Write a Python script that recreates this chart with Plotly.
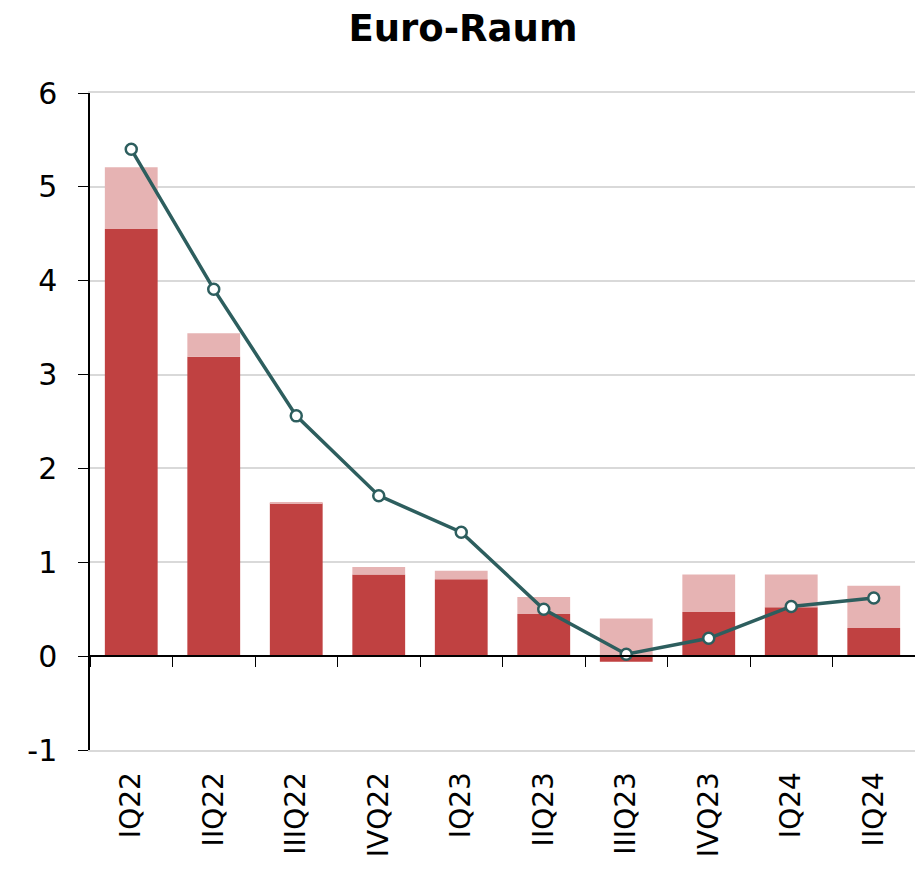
import plotly.graph_objects as go

categories = ["IQ22", "IIQ22", "IIIQ22", "IVQ22", "IQ23", "IIQ23", "IIIQ23", "IVQ23", "IQ24", "IIQ24"]
base_values = [4.55, 3.19, 1.63, 0.87, 0.82, 0.45, -0.06, 0.47, 0.52, 0.30]
extra_values = [0.66, 0.25, 0.01, 0.08, 0.09, 0.18, 0.40, 0.40, 0.35, 0.45]
line_values = [5.40, 3.91, 2.56, 1.71, 1.32, 0.50, 0.02, 0.19, 0.53, 0.62]
y_ticks = [-1, 0, 1, 2, 3, 4, 5, 6]
y_tick_labels = ["-1", "0", "1", "2", "3", "4", "5", "6"]

FONT = "DejaVu Sans"
DARK = "#C04141"
PINK = "#E6B3B3"
TEAL = "#2D5E5E"
GRID = "#D9D9D9"

fig = go.Figure()
fig.add_trace(go.Bar(x=categories, y=base_values, marker=dict(color=DARK, line=dict(width=0)),
                     width=0.64, showlegend=False))
fig.add_trace(go.Bar(x=categories, y=extra_values, marker=dict(color=PINK, line=dict(width=0)),
                     width=0.64, showlegend=False))
fig.add_trace(go.Scatter(x=categories, y=line_values, mode="lines+markers",
                         line=dict(color=TEAL, width=3.5),
                         marker=dict(size=11, color="white", line=dict(color=TEAL, width=2.5)),
                         showlegend=False))
# helper trace for the zero-line category axis
fig.add_trace(go.Scatter(x=categories, y=[None]*len(categories), xaxis="x2", yaxis="y",
                         showlegend=False, hoverinfo="skip"))

n = len(categories)
ymin, ymax = -1, 6
fig.update_layout(
    width=915, height=883,
    margin=dict(l=90, r=0, t=93, b=133),
    barmode="relative",
    plot_bgcolor="white", paper_bgcolor="white",
    title=dict(text="<b>Euro-Raum</b>", x=0.506, xanchor="center", y=0.968, yanchor="middle",
               font=dict(family=FONT, size=37, color="black")),
    font=dict(family=FONT, color="black"),
    yaxis=dict(range=[ymin, ymax], tickvals=y_ticks, ticktext=y_tick_labels,
               ticks="outside", ticklen=10, tickcolor="black",
               tickwidth=1, showline=True, linecolor="black", linewidth=1.5,
               showgrid=True, gridcolor=GRID, gridwidth=2, automargin=False,
               zeroline=False, tickfont=dict(size=30, family=FONT), ticklabelstandoff=15),
    xaxis=dict(type="category", range=[-0.5, n - 0.5], tickangle=-90, ticks="",
               showline=True, linecolor=GRID, linewidth=2, mirror=True,
               showgrid=False, automargin=False,
               tickfont=dict(size=28, family=FONT), ticklabelstandoff=9),
    xaxis2=dict(type="category", matches="x", overlaying="x", anchor="free",
                position=(0 - ymin) / (ymax - ymin),
                side="bottom", showticklabels=False, ticks="outside", tickson="boundaries",
                ticklen=10, tickcolor="black", tickwidth=1, showline=True, linecolor="black",
                linewidth=1.5, showgrid=False, automargin=False),
)

fig.write_html("out.html", config={"displayModeBar": False},
               post_script="document.body.style.margin='0';")
